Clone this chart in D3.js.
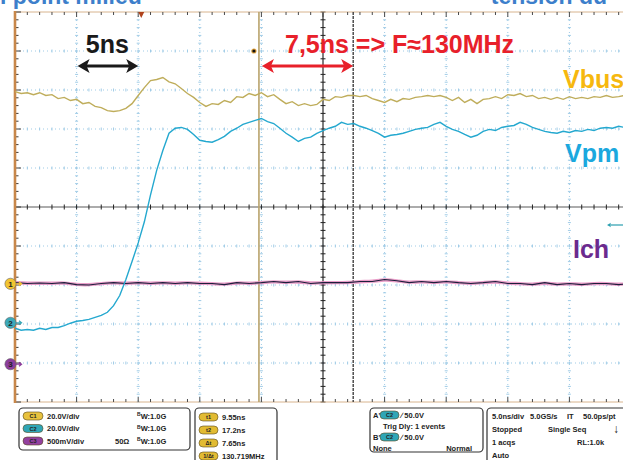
<!DOCTYPE html>
<html><head><meta charset="utf-8">
<script src="https://cdn.jsdelivr.net/npm/d3@7"></script>
<style>
html,body{margin:0;padding:0;background:#fff;overflow:hidden}
svg{display:block}
text{font-family:"Liberation Sans",Arial,Helvetica,sans-serif}
</style></head><body><svg id="c" width="623" height="460"></svg>
<script>
// ---- data (time in ns, levels in screen divisions) ----
const timeNs = [-25,-24.5,-24,-23.5,-23,-22.5,-22,-21.5,-21,-20.5,-20,-19.5,-19,-18.5,-18,-17.5,-17,-16.5,-16,-15.5,
 -15,-14.5,-14,-13.5,-13,-12.5,-12,-11.5,-11,-10.5,-10,-9.5,-9,-8.5,-8,-7.5,-7,-6.5,-6,-5.5,
 -5,-4.5,-4,-3.5,-3,-2.5,-2,-1.5,-1,-0.5,0,0.5,1,1.5,2,2.5,3,3.5,4,4.5,
 5,5.5,6,6.5,7,7.5,8,8.5,9,9.5,10,10.5,11,11.5,12,12.5,13,13.5,14,14.5,
 15,15.5,16,16.5,17,17.5,18,18.5,19,19.5,20,20.5,21,21.5,22,22.5,23,23.5,24,24.5,25];
const vbusDiv = [2.96,2.91,2.93,2.88,2.93,2.86,2.88,2.78,2.81,2.73,
 2.76,2.65,2.68,2.58,2.55,2.47,2.45,2.47,2.53,2.65,
 2.86,3.06,3.24,3.27,3.32,3.21,3.16,3.04,2.91,2.81,
 2.68,2.58,2.65,2.63,2.73,2.68,2.83,2.81,2.91,2.86,
 2.93,2.83,2.88,2.76,2.65,2.70,2.60,2.65,2.60,2.63,
 2.76,2.73,2.83,2.81,2.86,2.86,2.83,2.86,2.78,2.73,
 2.68,2.76,2.70,2.78,2.76,2.81,2.83,2.86,2.83,2.86,
 2.81,2.73,2.81,2.68,2.76,2.65,2.76,2.78,2.83,2.78,
 2.88,2.86,2.91,2.83,2.86,2.78,2.81,2.76,2.81,2.76,
 2.83,2.78,2.81,2.78,2.83,2.81,2.86,2.81,2.83,2.86,2.83];
const vpmDiv = [-3.11,-3.16,-3.14,-3.16,-3.11,-3.14,-3.09,-3.09,-3.04,-2.98,
 -2.93,-2.91,-2.88,-2.83,-2.78,-2.70,-2.53,-2.27,-1.86,-1.40,
 -0.92,-0.38,0.31,0.94,1.45,1.89,2.02,2.04,1.99,1.86,
 1.71,1.68,1.66,1.73,1.81,1.94,2.02,2.12,2.17,2.22,
 2.27,2.19,2.14,2.02,1.89,1.79,1.68,1.76,1.79,1.89,
 1.96,2.02,2.07,2.17,2.12,2.14,2.07,2.02,1.96,1.89,
 1.79,1.84,1.86,1.89,1.94,1.99,2.02,2.04,2.12,2.17,
 2.07,1.99,1.94,1.86,1.79,1.84,1.94,1.99,1.96,2.04,
 2.07,2.09,2.17,2.12,2.04,1.99,1.94,1.91,1.89,1.94,
 1.91,1.96,1.94,1.99,1.96,2.02,2.04,2.02,2.07,2.04,2.07];
const ichTimeNs = [-25,-24,-23,-22,-21,-20,-19,-18,-17,-16,-15,-14,-13,-12,-11,-10,-9,-8,-7,-6,
 -5,-4,-3,-2,-1,0,1,2,3,4,5,6,7,8,9,10,11,12,13,14,15,16,17,18,19,20,21,22,23,24,25];
const ichDiv = [-1.94,-1.96,-1.95,-1.96,-1.94,-1.99,-2.00,-1.96,-1.94,-1.96,
 -1.94,-1.96,-1.94,-1.96,-1.94,-1.96,-1.96,-1.99,-1.94,-1.96,
 -1.94,-1.91,-1.94,-1.91,-1.96,-1.94,-1.94,-1.94,-1.91,-1.91,
 -1.86,-1.89,-1.94,-1.91,-1.94,-1.91,-1.94,-1.96,-1.94,-1.91,
 -1.96,-1.96,-1.99,-1.94,-1.99,-1.96,-1.99,-1.96,-1.96,-1.99,-1.96];
const gridTimeNs = [-20,-15,-10,-5,5,10,15,20];
const gridDiv = [-4,-3,-2,-1,1,2,3,4];
const triggerNs = -14.75;
const cursorRelNs = [9.55, 17.2];
const channelMarkers = [{label:"1", div:-1.97, color:"#f2c431"},{label:"2", div:-2.97, color:"#3aa9b9"},{label:"3", div:-4.03, color:"#8c3d9c"}];

// ---- scales ----
const svg = d3.select("#c");
const x = d3.scaleLinear().domain([-25,25]).range([15,631]);
const y = d3.scaleLinear().domain([-5,5]).range([402,12]);
const X0 = x(-25), X1 = x(25), Y0 = y(5), Y1 = y(-5);

svg.append("rect").attr("width",623).attr("height",460).attr("fill","#fff");

// title fragments (clipped at top, as in the source image)
svg.append("text").attr("x",0).attr("y",4).attr("font-size",23).attr("font-weight","bold")
  .attr("fill","#3d7fcb").text("l point milieu");
svg.append("text").attr("x",607).attr("y",4).attr("font-size",23).attr("font-weight","bold")
  .attr("text-anchor","end").attr("fill","#3d7fcb").text("tension du");

const g = svg.append("g");
// dotted grid
const gridColor = "#9fcbe6";
g.selectAll(".gv").data(gridTimeNs).join("line")
  .attr("x1",d=>x(d)).attr("x2",d=>x(d)).attr("y1",Y0).attr("y2",Y1)
  .attr("stroke",gridColor).attr("stroke-width",1).attr("stroke-dasharray","1,3");
g.selectAll(".gh").data(gridDiv).join("line")
  .attr("y1",d=>y(d)).attr("y2",d=>y(d)).attr("x1",X0).attr("x2",X1)
  .attr("stroke",gridColor).attr("stroke-width",1).attr("stroke-dasharray","1,3");
const minorT = d3.range(-25,25.01,1);
const minorD = d3.range(-5,5.01,0.2);
gridDiv.forEach(dv=>{
  g.selectAll(null).data(minorT).join("line")
   .attr("x1",d=>x(d)).attr("x2",d=>x(d)).attr("y1",y(dv)-1.5).attr("y2",y(dv)+1.5)
   .attr("stroke",gridColor).attr("stroke-width",1);
});
gridTimeNs.forEach(t=>{
  g.selectAll(null).data(minorD).join("line")
   .attr("y1",d=>y(d)).attr("y2",d=>y(d)).attr("x1",x(t)-1.5).attr("x2",x(t)+1.5)
   .attr("stroke",gridColor).attr("stroke-width",1);
});
// center axes
g.append("line").attr("x1",X0).attr("x2",X1).attr("y1",y(0)).attr("y2",y(0)).attr("stroke","#5a5a5a").attr("stroke-width",1.2);
g.append("line").attr("y1",Y0).attr("y2",Y1).attr("x1",x(0)).attr("x2",x(0)).attr("stroke","#3a3a3a").attr("stroke-width",1.3);
g.selectAll(null).data(minorT).join("line")
  .attr("x1",d=>x(d)).attr("x2",d=>x(d)).attr("y1",y(0)-2.5).attr("y2",y(0)+2.5)
  .attr("stroke","#222").attr("stroke-width",1);
g.selectAll(null).data(minorD).join("line")
  .attr("y1",d=>y(d)).attr("y2",d=>y(d)).attr("x1",x(0)-2.5).attr("x2",x(0)+2.5)
  .attr("stroke","#222").attr("stroke-width",1);
// top/bottom rulers
[Y0,Y1].forEach((yy,i)=>{
  g.append("line").attr("x1",X0).attr("x2",X1).attr("y1",yy).attr("y2",yy).attr("stroke","#d8b48e").attr("stroke-width",1);
  g.selectAll(null).data(minorT).join("line")
   .attr("x1",d=>x(d)).attr("x2",d=>x(d))
   .attr("y1",yy).attr("y2",d=> yy + (i===0?1:-1)*((d%5===0)?5:3))
   .attr("stroke","#4a4a4a").attr("stroke-width",1);
});
// left border
g.selectAll(null).data(minorD).join("line")
  .attr("y1",d=>y(d)).attr("y2",d=>y(d)).attr("x1",X0).attr("x2",d=>X0+((Math.abs(d*5)%5<0.01)?6:3.5))
  .attr("stroke","#3a3a3a").attr("stroke-width",1);
g.append("line").attr("x1",X0).attr("x2",X0).attr("y1",Y0-1).attr("y2",Y1+1).attr("stroke","#c8874a").attr("stroke-width",2.6);

// trigger marker
const tx = x(triggerNs);
g.append("path").attr("d",`M${tx-3},${Y0} L${tx+3},${Y0} L${tx},${Y0+6} Z`).attr("fill","#b0431c");

// cursors
const c1 = x(triggerNs+cursorRelNs[0]), c2 = x(triggerNs+cursorRelNs[1]);
g.append("line").attr("x1",c1).attr("x2",c1).attr("y1",Y0).attr("y2",Y1).attr("stroke","#b9a36c").attr("stroke-width",1.6);
g.append("line").attr("x1",c2).attr("x2",c2).attr("y1",Y0).attr("y2",Y1).attr("stroke","#333").attr("stroke-width",1.3).attr("stroke-dasharray","3,1");

// stray dot
g.append("circle").attr("cx",c1-5).attr("cy",51).attr("r",2.6).attr("fill","#e2a23c");
g.append("circle").attr("cx",c1-5).attr("cy",51).attr("r",1.6).attr("fill","#111");

// traces
const line = d3.line().x(d=>x(d[0])).y(d=>y(d[1]));
const vbus = timeNs.map((t,i)=>[t,vbusDiv[i]]);
const vpm = timeNs.map((t,i)=>[t,vpmDiv[i]]);
const ich = ichTimeNs.map((t,i)=>[t,ichDiv[i]]);
g.append("path").attr("d",d3.line().x(d=>x(d[0])).y(d=>y(d[1])).curve(d3.curveBasis)(ich))
  .attr("fill","none").attr("stroke","#e58cbe").attr("stroke-width",3.4).attr("opacity",0.85);
g.append("path").attr("d",line(ich)).attr("fill","none").attr("stroke","#1d1f3c").attr("stroke-width",1.1);
g.append("path").attr("d",line(vbus)).attr("fill","none").attr("stroke","#bfad5b").attr("stroke-width",1.4);
g.append("path").attr("d",line(vpm)).attr("fill","none").attr("stroke","#24a8cf").attr("stroke-width",1.4);

// channel markers on the left
channelMarkers.forEach(m=>{
  const cy = y(m.div);
  g.append("path").attr("d",`M16,${cy} L21,${cy} M19,${cy-2} L21.5,${cy} L19,${cy+2}`).attr("stroke",m.color).attr("stroke-width",1.3).attr("fill","none");
  g.append("circle").attr("cx",10.5).attr("cy",cy).attr("r",5.6).attr("fill",m.color).attr("stroke","#666").attr("stroke-width",0.6);
  g.append("text").attr("x",10.5).attr("y",cy+2.7).attr("text-anchor","middle").attr("font-size",8).attr("font-weight","bold").attr("fill","#222").text(m.label);
});

function dblArrow(x1,x2,yy,color,w,hl,hw){
  const a = g.append("g");
  a.append("line").attr("x1",x1+hl*0.7).attr("x2",x2-hl*0.7).attr("y1",yy).attr("y2",yy).attr("stroke",color).attr("stroke-width",w);
  a.append("path").attr("d",`M${x1},${yy} L${x1+hl},${yy-hw} L${x1+hl*0.75},${yy} L${x1+hl},${yy+hw} Z`).attr("fill",color);
  a.append("path").attr("d",`M${x2},${yy} L${x2-hl},${yy-hw} L${x2-hl*0.75},${yy} L${x2-hl},${yy+hw} Z`).attr("fill",color);
}
dblArrow(607,627,225,"#2a9fb0",1.2,4,2.2);

// annotations
dblArrow(x(-20)+1,x(-15),66,"#1a1a1a",3,12,7);
dblArrow(c1+3,c2,66,"#e8202a",3,12,7);
svg.append("text").attr("x",x(-17.5)).attr("y",53).attr("text-anchor","middle").attr("font-size",25).attr("font-weight","bold").attr("fill","#1a1a1a").text("5ns");
svg.append("text").attr("x",285).attr("y",53).attr("font-size",25).attr("font-weight","bold").attr("fill","#e8202a").text("7,5ns => F\u2248130MHz");
svg.append("text").attr("x",563).attr("y",88).attr("font-size",25).attr("font-weight","bold").attr("fill","#f6b80f").text("Vbus");
svg.append("text").attr("x",565).attr("y",162).attr("font-size",25).attr("font-weight","bold").attr("fill","#1ba8de").text("Vpm");
svg.append("text").attr("x",573).attr("y",258).attr("font-size",25).attr("font-weight","bold").attr("fill","#6b2a8e").text("Ich");

// ---- bottom info panel ----
const p = svg.append("g").attr("font-weight","bold").attr("fill","#222");
function box(x0,y0,w,h){p.append("rect").attr("x",x0).attr("y",y0).attr("width",w).attr("height",h).attr("rx",4).attr("fill","#fff").attr("stroke","#333").attr("stroke-width",1.2);}
function pill(x0,cy,w,color,label){
  p.append("rect").attr("x",x0).attr("y",cy-4).attr("width",w).attr("height",8).attr("rx",4).attr("fill",color).attr("stroke","#5a4a20").attr("stroke-width",0.6);
  p.append("text").attr("x",x0+w/2).attr("y",cy+2).attr("text-anchor","middle").attr("font-size",5.5).attr("fill","#222").text(label);
}
function txt(x0,cy,s,anchor,fs){p.append("text").attr("x",x0).attr("y",cy+2.6).attr("font-size",fs||7.5).attr("text-anchor",anchor||"start").text(s);}
function bw(x0,cy){
  const t=p.append("text").attr("x",x0).attr("y",cy+2.6).attr("font-size",7.5);
  t.append("tspan").attr("font-size",5).attr("dy",-2.5).text("B");
  t.append("tspan").attr("dy",2.5).text("W:1.0G");
}
box(19,408,171,42);
const chRows = [{lab:"C1",col:"#e8c23e",v:"20.0V/div",z:""},{lab:"C2",col:"#2fa6b6",v:"20.0V/div",z:""},{lab:"C3",col:"#93409f",v:"500mV/div",z:"50\u03A9"}];
chRows.forEach((r,i)=>{const cy=416+i*12.5; pill(23,cy,20,r.col,r.lab); txt(47,cy,r.v); if(r.z) txt(115,cy,r.z); bw(137,cy);});
box(195,408,82,60);
const curRows=[["t1","9.55ns"],["t2","17.2ns"],["\u0394t","7.65ns"],["1/\u0394t","130.719MHz"]];
curRows.forEach((r,i)=>{const cy=417+i*13; pill(199,cy,19,"#e2bb32",r[0]); txt(222,cy,r[1]);});
box(370,408,113,44);
txt(373,415,"A'"); pill(380,415,19,"#2fa6b6","C2"); txt(401,415,"\u2215 50.0V");
txt(383,426,"Trig Dly: 1 events");
txt(373,437,"B'"); pill(380,437,19,"#2fa6b6","C2"); txt(401,437,"\u2215 50.0V");
txt(373,448,"None"); txt(472,448,"Normal","end");
box(487,408,150,60);
txt(492,416,"5.0ns/div"); txt(530,416,"5.0GS/s"); txt(567,416,"IT"); txt(583,416,"50.0ps/pt");
txt(492,429,"Stopped"); txt(548,429,"Single Seq"); txt(613,430,"\u2193",null,12);
txt(492,442,"1 acqs"); txt(577,442,"RL:1.0k");
txt(492,455,"Auto");
</script></body></html>
